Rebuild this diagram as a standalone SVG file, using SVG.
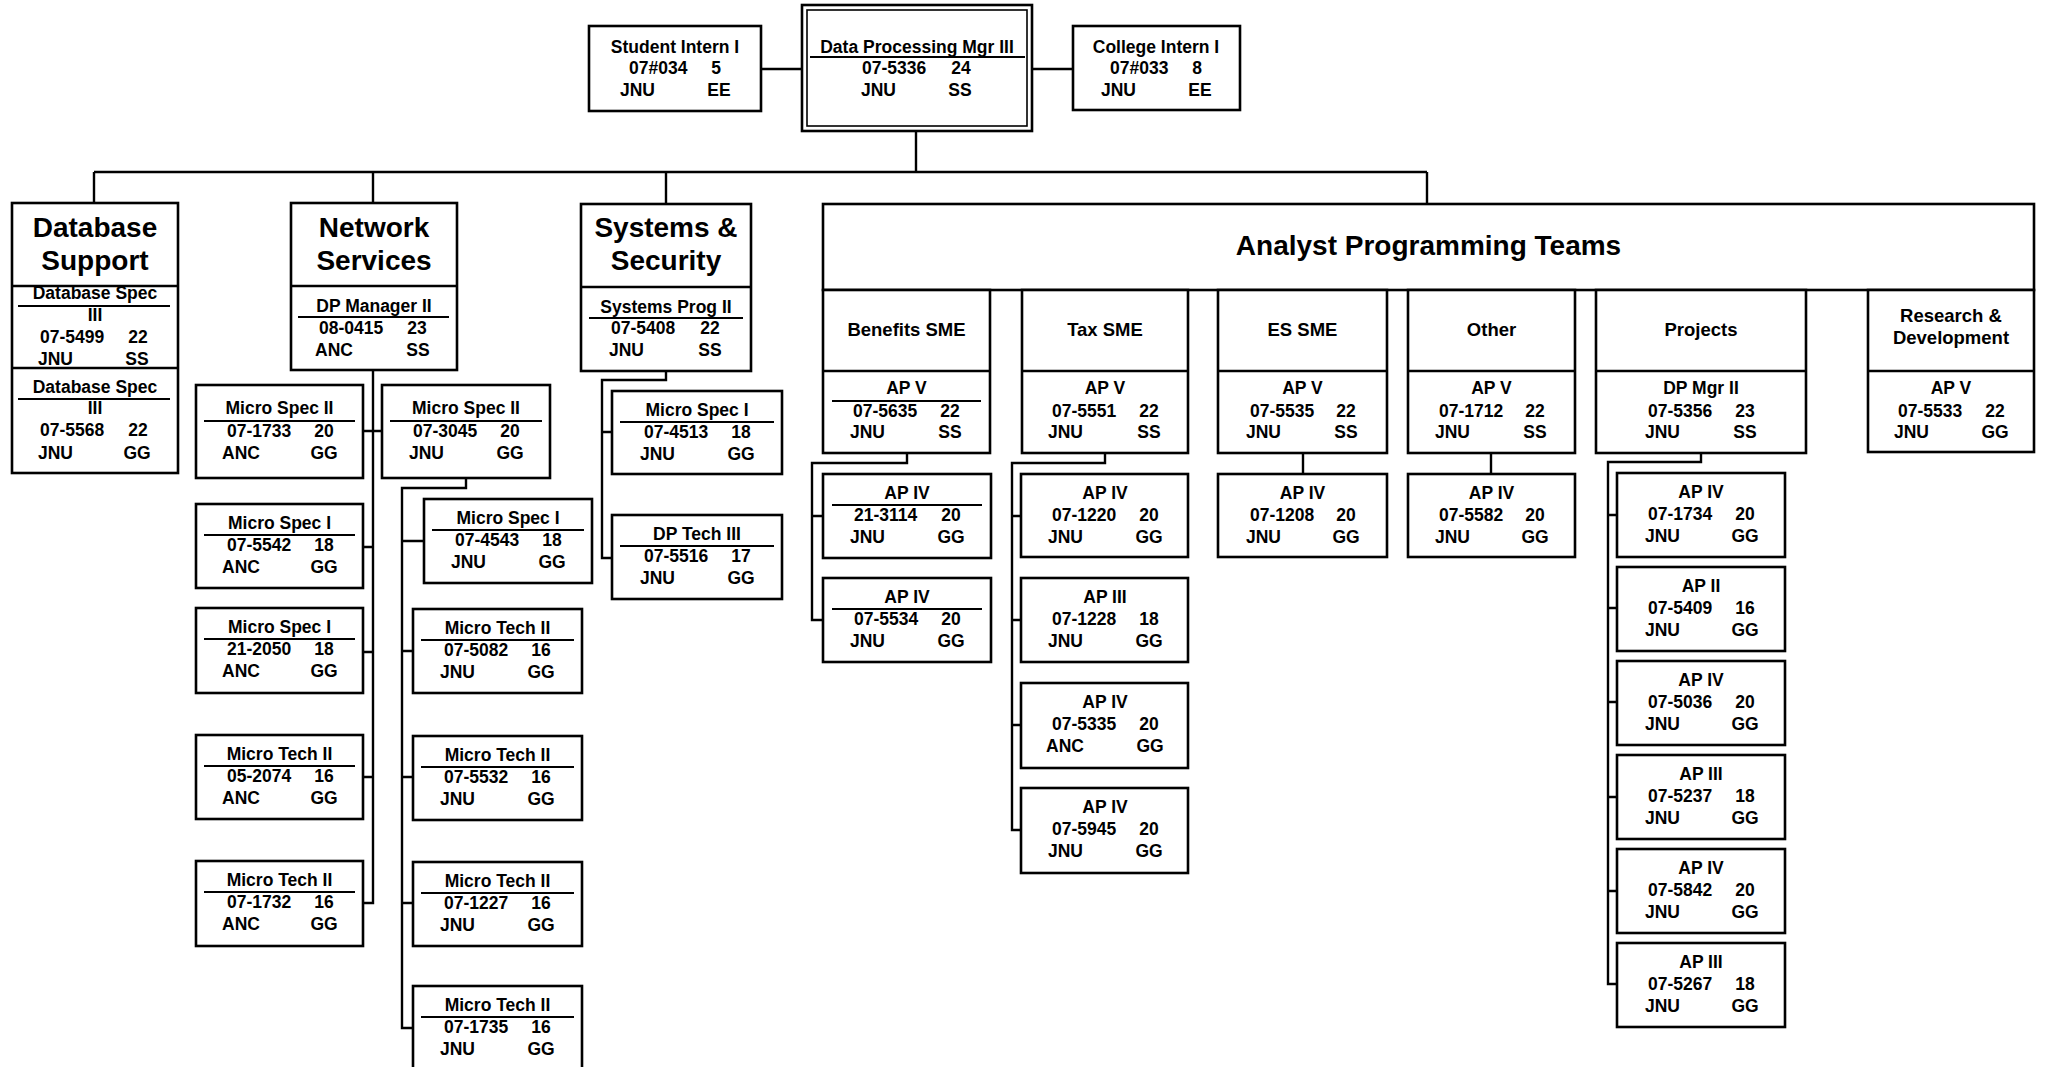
<svg xmlns="http://www.w3.org/2000/svg" width="2047" height="1067" viewBox="0 0 2047 1067">
<style>
.b{fill:#fff;stroke:#000;stroke-width:2.6}
.l{stroke:#000;stroke-width:2.4;fill:none}
.u{stroke:#000;stroke-width:2.2}
text{font-family:"Liberation Sans",Arial,Helvetica,sans-serif;font-weight:700;font-size:17.5px;fill:#000}
.m{text-anchor:middle}
.h{font-size:28px}
.s{font-size:18.5px}
</style>
<rect width="2047" height="1067" fill="#fff"/>
<g id="connectors">
<path class="l" d="M761 69H802M1032 69H1073M916 131V172M94 172H1427M94 172V203M373 172V203M666 172V204M1427 172V204"/>
<path class="l" d="M373 370V903H363M363 431H382M363 547H373M363 652H373M363 777H373"/>
<path class="l" d="M466 478V488H402V1028H413M402 541H424M402 651H413M402 777H413M402 903H413"/>
<path class="l" d="M666 371V380H602V558H612M602 432H612"/>
<path class="l" d="M907 453V463H812V620H823M812 516H823"/>
<path class="l" d="M1105 453V463H1012V830H1021M1012 516H1021M1012 620H1021M1012 725H1021"/>
<path class="l" d="M1303 453V474M1491 453V474"/>
<path class="l" d="M1701 453V462H1608V984H1617M1608 515H1617M1608 608H1617M1608 702H1617M1608 797H1617M1608 891H1617"/>
</g>
<g id="student-intern">
<rect class="b" x="589" y="26" width="172" height="85"/>
<text class="m" x="675" y="53">Student Intern I</text>
<text x="629" y="74">07#034</text><text class="m" x="716" y="74">5</text>
<text x="620" y="96">JNU</text><text class="m" x="719" y="96">EE</text>
</g>
<g id="dp-mgr-iii">
<rect class="b" x="802" y="5" width="230" height="126"/>
<rect x="807" y="10" width="220" height="116" fill="none" stroke="#000" stroke-width="1.6"/>
<text class="m" x="917" y="53">Data Processing Mgr III</text>
<line class="u" x1="810" y1="57" x2="1025" y2="57"/>
<text x="862" y="74">07-5336</text><text class="m" x="961" y="74">24</text>
<text x="861" y="96">JNU</text><text class="m" x="960" y="96">SS</text>
</g>
<g id="college-intern">
<rect class="b" x="1073" y="26" width="167" height="84"/>
<text class="m" x="1156" y="53">College Intern I</text>
<text x="1110" y="74">07#033</text><text class="m" x="1197" y="74">8</text>
<text x="1101" y="96">JNU</text><text class="m" x="1200" y="96">EE</text>
</g>
<g id="database-support">
<rect class="b" x="12" y="203" width="166" height="270"/>
<line class="l" x1="12" y1="286" x2="178" y2="286"/>
<line class="l" x1="12" y1="368" x2="178" y2="368"/>
<text class="m h" x="95" y="237">Database</text>
<text class="m h" x="95" y="270">Support</text>
<text class="m" x="95" y="299">Database Spec</text>
<line class="u" x1="18" y1="306" x2="170" y2="306"/>
<text class="m" x="95" y="321">III</text>
<text x="40" y="343">07-5499</text><text class="m" x="138" y="343">22</text>
<text x="38" y="365">JNU</text><text class="m" x="137" y="365">SS</text>
<text class="m" x="95" y="393">Database Spec</text>
<line class="u" x1="18" y1="399" x2="170" y2="399"/>
<text class="m" x="95" y="414">III</text>
<text x="40" y="436">07-5568</text><text class="m" x="138" y="436">22</text>
<text x="38" y="459">JNU</text><text class="m" x="137" y="459">GG</text>
</g>
<g id="network-services">
<rect class="b" x="291" y="203" width="166" height="167"/>
<line class="l" x1="291" y1="286" x2="457" y2="286"/>
<text class="m h" x="374" y="237">Network</text>
<text class="m h" x="374" y="270">Services</text>
<text class="m" x="374" y="312">DP Manager II</text>
<line class="u" x1="298" y1="317" x2="449" y2="317"/>
<text x="319" y="334">08-0415</text><text class="m" x="417" y="334">23</text>
<text x="315" y="356">ANC</text><text class="m" x="418" y="356">SS</text>
</g>
<g id="ns-micro-spec-ii-1733">
<rect class="b" x="196" y="385" width="167" height="93"/>
<text class="m" x="279.5" y="414">Micro Spec II</text>
<line class="u" x1="204" y1="421" x2="355" y2="421"/>
<text x="227" y="437">07-1733</text><text class="m" x="324" y="437">20</text>
<text x="222" y="459">ANC</text><text class="m" x="324" y="459">GG</text>
</g>
<g id="ns-micro-spec-i-5542">
<rect class="b" x="196" y="504" width="167" height="84"/>
<text class="m" x="279.5" y="529">Micro Spec I</text>
<line class="u" x1="204" y1="535" x2="355" y2="535"/>
<text x="227" y="551">07-5542</text><text class="m" x="324" y="551">18</text>
<text x="222" y="573">ANC</text><text class="m" x="324" y="573">GG</text>
</g>
<g id="ns-micro-spec-i-2050">
<rect class="b" x="196" y="608" width="167" height="85"/>
<text class="m" x="279.5" y="633">Micro Spec I</text>
<line class="u" x1="204" y1="639" x2="355" y2="639"/>
<text x="227" y="655">21-2050</text><text class="m" x="324" y="655">18</text>
<text x="222" y="677">ANC</text><text class="m" x="324" y="677">GG</text>
</g>
<g id="ns-micro-tech-ii-2074">
<rect class="b" x="196" y="735" width="167" height="84"/>
<text class="m" x="279.5" y="760">Micro Tech II</text>
<line class="u" x1="204" y1="766" x2="355" y2="766"/>
<text x="227" y="782">05-2074</text><text class="m" x="324" y="782">16</text>
<text x="222" y="804">ANC</text><text class="m" x="324" y="804">GG</text>
</g>
<g id="ns-micro-tech-ii-1732">
<rect class="b" x="196" y="861" width="167" height="85"/>
<text class="m" x="279.5" y="886">Micro Tech II</text>
<line class="u" x1="204" y1="892" x2="355" y2="892"/>
<text x="227" y="908">07-1732</text><text class="m" x="324" y="908">16</text>
<text x="222" y="930">ANC</text><text class="m" x="324" y="930">GG</text>
</g>
<g id="ns-micro-spec-ii-3045">
<rect class="b" x="382" y="385" width="168" height="93"/>
<text class="m" x="466" y="414">Micro Spec II</text>
<line class="u" x1="390" y1="421" x2="542" y2="421"/>
<text x="413" y="437">07-3045</text><text class="m" x="510" y="437">20</text>
<text x="409" y="459">JNU</text><text class="m" x="510" y="459">GG</text>
</g>
<g id="ns-micro-spec-i-4543">
<rect class="b" x="424" y="499" width="168" height="84"/>
<text class="m" x="508" y="524">Micro Spec I</text>
<line class="u" x1="432" y1="530" x2="584" y2="530"/>
<text x="455" y="546">07-4543</text><text class="m" x="552" y="546">18</text>
<text x="451" y="568">JNU</text><text class="m" x="552" y="568">GG</text>
</g>
<g id="ns-micro-tech-ii-5082">
<rect class="b" x="413" y="609" width="169" height="84"/>
<text class="m" x="497.5" y="634">Micro Tech II</text>
<line class="u" x1="421" y1="640" x2="574" y2="640"/>
<text x="444" y="656">07-5082</text><text class="m" x="541" y="656">16</text>
<text x="440" y="678">JNU</text><text class="m" x="541" y="678">GG</text>
</g>
<g id="ns-micro-tech-ii-5532">
<rect class="b" x="413" y="736" width="169" height="84"/>
<text class="m" x="497.5" y="761">Micro Tech II</text>
<line class="u" x1="421" y1="767" x2="574" y2="767"/>
<text x="444" y="783">07-5532</text><text class="m" x="541" y="783">16</text>
<text x="440" y="805">JNU</text><text class="m" x="541" y="805">GG</text>
</g>
<g id="ns-micro-tech-ii-1227">
<rect class="b" x="413" y="862" width="169" height="84"/>
<text class="m" x="497.5" y="887">Micro Tech II</text>
<line class="u" x1="421" y1="893" x2="574" y2="893"/>
<text x="444" y="909">07-1227</text><text class="m" x="541" y="909">16</text>
<text x="440" y="931">JNU</text><text class="m" x="541" y="931">GG</text>
</g>
<g id="ns-micro-tech-ii-1735">
<rect class="b" x="413" y="986" width="169" height="90"/>
<text class="m" x="497.5" y="1011">Micro Tech II</text>
<line class="u" x1="421" y1="1017" x2="574" y2="1017"/>
<text x="444" y="1033">07-1735</text><text class="m" x="541" y="1033">16</text>
<text x="440" y="1055">JNU</text><text class="m" x="541" y="1055">GG</text>
</g>
<g id="systems-security">
<rect class="b" x="581" y="204" width="170" height="167"/>
<line class="l" x1="581" y1="287" x2="751" y2="287"/>
<text class="m h" x="666" y="237">Systems &amp;</text>
<text class="m h" x="666" y="270">Security</text>
<text class="m" x="666" y="313">Systems Prog II</text>
<line class="u" x1="589" y1="318" x2="743" y2="318"/>
<text x="611" y="334">07-5408</text><text class="m" x="710" y="334">22</text>
<text x="609" y="356">JNU</text><text class="m" x="710" y="356">SS</text>
</g>
<g id="ss-micro-spec-i-4513">
<rect class="b" x="612" y="391" width="170" height="83"/>
<text class="m" x="697" y="416">Micro Spec I</text>
<line class="u" x1="620" y1="422" x2="774" y2="422"/>
<text x="644" y="438">07-4513</text><text class="m" x="741" y="438">18</text>
<text x="640" y="460">JNU</text><text class="m" x="741" y="460">GG</text>
</g>
<g id="ss-dp-tech-iii">
<rect class="b" x="612" y="515" width="170" height="84"/>
<text class="m" x="697" y="540">DP Tech III</text>
<line class="u" x1="620" y1="546" x2="774" y2="546"/>
<text x="644" y="562">07-5516</text><text class="m" x="741" y="562">17</text>
<text x="640" y="584">JNU</text><text class="m" x="741" y="584">GG</text>
</g>
<g id="analyst-programming-teams">
<rect class="b" x="823" y="204" width="1211" height="86"/>
<text class="m h" x="1428.5" y="255">Analyst Programming Teams</text>
</g>
<g id="benefits-sme">
<rect class="b" x="823" y="290" width="167" height="163"/>
<line class="l" x1="823" y1="371" x2="990" y2="371"/>
<text class="m s" x="906.5" y="336">Benefits SME</text>
<text class="m" x="906.5" y="394">AP V</text>
<line class="u" x1="832" y1="401" x2="981" y2="401"/>
<text x="853" y="417">07-5635</text><text class="m" x="950" y="417">22</text>
<text x="850" y="438">JNU</text><text class="m" x="950" y="438">SS</text>
</g>
<g id="benefits-ap-iv-3114">
<rect class="b" x="823" y="474" width="168" height="84"/>
<text class="m" x="907" y="499">AP IV</text>
<line class="u" x1="832" y1="505" x2="982" y2="505"/>
<text x="854" y="521">21-3114</text><text class="m" x="951" y="521">20</text>
<text x="850" y="543">JNU</text><text class="m" x="951" y="543">GG</text>
</g>
<g id="benefits-ap-iv-5534">
<rect class="b" x="823" y="578" width="168" height="84"/>
<text class="m" x="907" y="603">AP IV</text>
<line class="u" x1="832" y1="609" x2="982" y2="609"/>
<text x="854" y="625">07-5534</text><text class="m" x="951" y="625">20</text>
<text x="850" y="647">JNU</text><text class="m" x="951" y="647">GG</text>
</g>
<g id="tax-sme">
<rect class="b" x="1022" y="290" width="166" height="163"/>
<line class="l" x1="1022" y1="371" x2="1188" y2="371"/>
<text class="m s" x="1105" y="336">Tax SME</text>
<text class="m" x="1105" y="394">AP V</text>
<text x="1052" y="417">07-5551</text><text class="m" x="1149" y="417">22</text>
<text x="1048" y="438">JNU</text><text class="m" x="1149" y="438">SS</text>
</g>
<g id="tax-ap-iv-1220">
<rect class="b" x="1021" y="474" width="167" height="83"/>
<text class="m" x="1105" y="499">AP IV</text>
<text x="1052" y="521">07-1220</text><text class="m" x="1149" y="521">20</text>
<text x="1048" y="543">JNU</text><text class="m" x="1149" y="543">GG</text>
</g>
<g id="tax-ap-iii-1228">
<rect class="b" x="1021" y="578" width="167" height="84"/>
<text class="m" x="1105" y="603">AP III</text>
<text x="1052" y="625">07-1228</text><text class="m" x="1149" y="625">18</text>
<text x="1048" y="647">JNU</text><text class="m" x="1149" y="647">GG</text>
</g>
<g id="tax-ap-iv-5335">
<rect class="b" x="1021" y="683" width="167" height="85"/>
<text class="m" x="1105" y="708">AP IV</text>
<text x="1052" y="730">07-5335</text><text class="m" x="1149" y="730">20</text>
<text x="1046" y="752">ANC</text><text class="m" x="1150" y="752">GG</text>
</g>
<g id="tax-ap-iv-5945">
<rect class="b" x="1021" y="788" width="167" height="85"/>
<text class="m" x="1105" y="813">AP IV</text>
<text x="1052" y="835">07-5945</text><text class="m" x="1149" y="835">20</text>
<text x="1048" y="857">JNU</text><text class="m" x="1149" y="857">GG</text>
</g>
<g id="es-sme">
<rect class="b" x="1218" y="290" width="169" height="163"/>
<line class="l" x1="1218" y1="371" x2="1387" y2="371"/>
<text class="m s" x="1302.5" y="336">ES SME</text>
<text class="m" x="1302.5" y="394">AP V</text>
<text x="1250" y="417">07-5535</text><text class="m" x="1346" y="417">22</text>
<text x="1246" y="438">JNU</text><text class="m" x="1346" y="438">SS</text>
</g>
<g id="es-ap-iv-1208">
<rect class="b" x="1218" y="474" width="169" height="83"/>
<text class="m" x="1302.5" y="499">AP IV</text>
<text x="1250" y="521">07-1208</text><text class="m" x="1346" y="521">20</text>
<text x="1246" y="543">JNU</text><text class="m" x="1346" y="543">GG</text>
</g>
<g id="other">
<rect class="b" x="1408" y="290" width="167" height="163"/>
<line class="l" x1="1408" y1="371" x2="1575" y2="371"/>
<text class="m s" x="1491.5" y="336">Other</text>
<text class="m" x="1491.5" y="394">AP V</text>
<text x="1439" y="417">07-1712</text><text class="m" x="1535" y="417">22</text>
<text x="1435" y="438">JNU</text><text class="m" x="1535" y="438">SS</text>
</g>
<g id="other-ap-iv-5582">
<rect class="b" x="1408" y="474" width="167" height="83"/>
<text class="m" x="1491.5" y="499">AP IV</text>
<text x="1439" y="521">07-5582</text><text class="m" x="1535" y="521">20</text>
<text x="1435" y="543">JNU</text><text class="m" x="1535" y="543">GG</text>
</g>
<g id="projects">
<rect class="b" x="1596" y="290" width="210" height="163"/>
<line class="l" x1="1596" y1="371" x2="1806" y2="371"/>
<text class="m s" x="1701" y="336">Projects</text>
<text class="m" x="1701" y="394">DP Mgr II</text>
<text x="1648" y="417">07-5356</text><text class="m" x="1745" y="417">23</text>
<text x="1645" y="438">JNU</text><text class="m" x="1745" y="438">SS</text>
</g>
<g id="proj-ap-iv-1734">
<rect class="b" x="1617" y="473" width="168" height="84"/>
<text class="m" x="1701" y="498">AP IV</text>
<text x="1648" y="520">07-1734</text><text class="m" x="1745" y="520">20</text>
<text x="1645" y="542">JNU</text><text class="m" x="1745" y="542">GG</text>
</g>
<g id="proj-ap-ii-5409">
<rect class="b" x="1617" y="567" width="168" height="84"/>
<text class="m" x="1701" y="592">AP II</text>
<text x="1648" y="614">07-5409</text><text class="m" x="1745" y="614">16</text>
<text x="1645" y="636">JNU</text><text class="m" x="1745" y="636">GG</text>
</g>
<g id="proj-ap-iv-5036">
<rect class="b" x="1617" y="661" width="168" height="84"/>
<text class="m" x="1701" y="686">AP IV</text>
<text x="1648" y="708">07-5036</text><text class="m" x="1745" y="708">20</text>
<text x="1645" y="730">JNU</text><text class="m" x="1745" y="730">GG</text>
</g>
<g id="proj-ap-iii-5237">
<rect class="b" x="1617" y="755" width="168" height="84"/>
<text class="m" x="1701" y="780">AP III</text>
<text x="1648" y="802">07-5237</text><text class="m" x="1745" y="802">18</text>
<text x="1645" y="824">JNU</text><text class="m" x="1745" y="824">GG</text>
</g>
<g id="proj-ap-iv-5842">
<rect class="b" x="1617" y="849" width="168" height="84"/>
<text class="m" x="1701" y="874">AP IV</text>
<text x="1648" y="896">07-5842</text><text class="m" x="1745" y="896">20</text>
<text x="1645" y="918">JNU</text><text class="m" x="1745" y="918">GG</text>
</g>
<g id="proj-ap-iii-5267">
<rect class="b" x="1617" y="943" width="168" height="84"/>
<text class="m" x="1701" y="968">AP III</text>
<text x="1648" y="990">07-5267</text><text class="m" x="1745" y="990">18</text>
<text x="1645" y="1012">JNU</text><text class="m" x="1745" y="1012">GG</text>
</g>
<g id="research-development">
<rect class="b" x="1868" y="290" width="166" height="162"/>
<line class="l" x1="1868" y1="371" x2="2034" y2="371"/>
<text class="m s" x="1951" y="322">Research &amp;</text>
<text class="m s" x="1951" y="344">Development</text>
<text class="m" x="1951" y="394">AP V</text>
<text x="1898" y="417">07-5533</text><text class="m" x="1995" y="417">22</text>
<text x="1894" y="438">JNU</text><text class="m" x="1995" y="438">GG</text>
</g>
</svg>
